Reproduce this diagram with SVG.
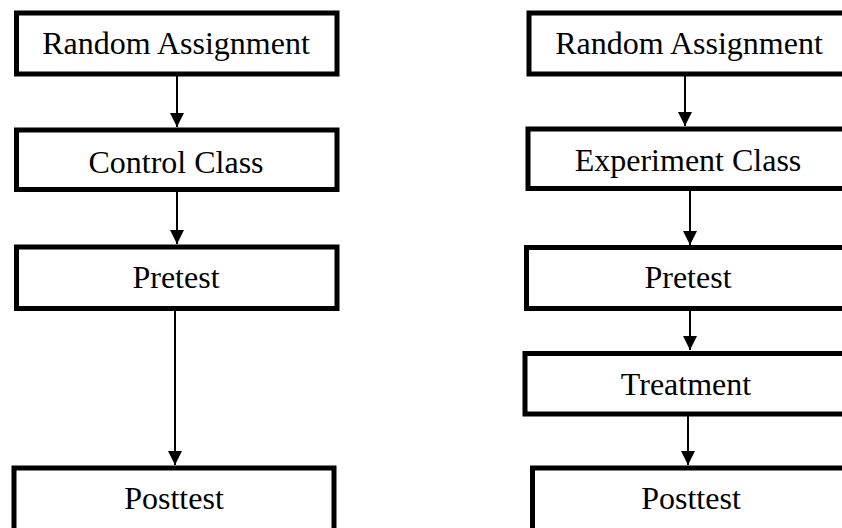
<svg xmlns="http://www.w3.org/2000/svg" width="842" height="528" viewBox="0 0 842 528">
<defs>
<marker id="ah" markerUnits="userSpaceOnUse" markerWidth="14" markerHeight="16" refX="14" refY="7" orient="auto">
<path d="M0,0 L14,7 L0,14 Z" fill="#000"/>
</marker>
<style>
.box{fill:#fff;stroke:#000;stroke-width:5}
.lbl{font-family:"Liberation Serif","Times New Roman",serif;font-size:32px;fill:#000;text-anchor:middle}
.con{stroke:#000;stroke-width:2;fill:none;marker-end:url(#ah)}
</style>
</defs>
<rect width="842" height="528" fill="#fff"/>
<g id="connectors">
<line class="con" x1="177" y1="76" x2="177" y2="127"/>
<line class="con" x1="177" y1="192" x2="177" y2="244"/>
<line class="con" x1="175" y1="311" x2="175" y2="465"/>
<line class="con" x1="685" y1="76" x2="685" y2="126"/>
<line class="con" x1="690" y1="191" x2="690" y2="245"/>
<line class="con" x1="690" y1="311" x2="690" y2="350"/>
<line class="con" x1="688" y1="416" x2="688" y2="465"/>
</g>
<g id="l-random">
<rect class="box" x="16.5" y="13" width="320.5" height="61"/>
<text class="lbl" x="176" y="54">Random Assignment</text>
</g>
<g id="l-control">
<rect class="box" x="16.5" y="130" width="320.5" height="59.5"/>
<text class="lbl" x="176" y="173">Control Class</text>
</g>
<g id="l-pretest">
<rect class="box" x="16.5" y="247" width="320.5" height="61.5"/>
<text class="lbl" x="176" y="288">Pretest</text>
</g>
<g id="l-posttest">
<rect class="box" x="14" y="468" width="320" height="80"/>
<text class="lbl" x="174" y="509">Posttest</text>
</g>
<g id="r-random">
<rect class="box" x="529" y="13" width="330" height="61"/>
<text class="lbl" x="689" y="54">Random Assignment</text>
</g>
<g id="r-experiment">
<rect class="box" x="528" y="129" width="330" height="59.5"/>
<text class="lbl" x="688" y="171">Experiment Class</text>
</g>
<g id="r-pretest">
<rect class="box" x="526.5" y="247.5" width="330" height="61"/>
<text class="lbl" x="688" y="288">Pretest</text>
</g>
<g id="r-treatment">
<rect class="box" x="525" y="353.5" width="330" height="60.5"/>
<text class="lbl" x="686" y="395">Treatment</text>
</g>
<g id="r-posttest">
<rect class="box" x="532.5" y="468" width="330" height="80"/>
<text class="lbl" x="691" y="509">Posttest</text>
</g>
</svg>
